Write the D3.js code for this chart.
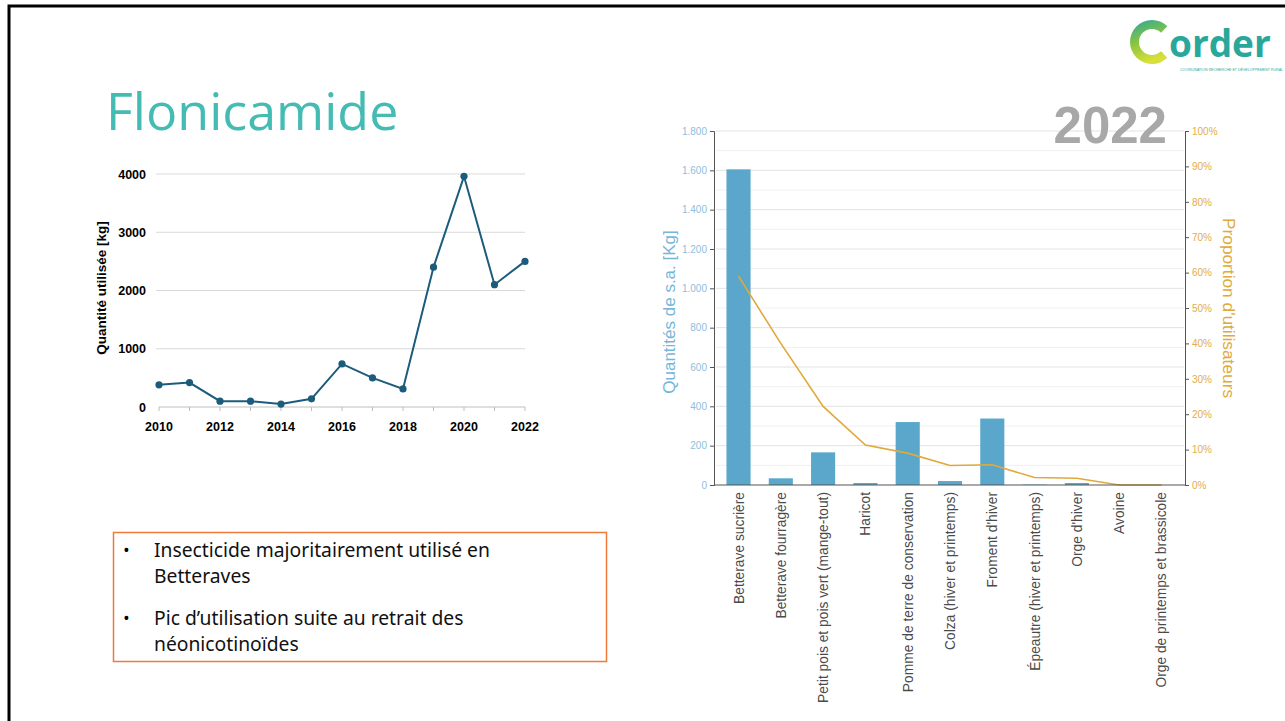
<!DOCTYPE html>
<html>
<head>
<meta charset="utf-8">
<script src="https://cdn.jsdelivr.net/npm/d3@7"></script>
<style>
  body { margin: 0; background: #fff; }
  svg { display: block; }
</style>
</head>
<body>
<svg id="slide" width="1285" height="721"></svg>
<script>
// --- data ---
var years = [2010, 2011, 2012, 2013, 2014, 2015, 2016, 2017, 2018, 2019, 2020, 2021, 2022];
var quantities = [380, 420, 100, 100, 50, 140, 740, 500, 310, 2400, 3960, 2100, 2500];
var yearTicks = [0, 1000, 2000, 3000, 4000];

var crops = ["Betterave sucrière", "Betterave fourragère", "Petit pois et pois vert (mange-tout)",
  "Haricot", "Pomme de terre de conservation", "Colza (hiver et printemps)", "Froment d'hiver",
  "Épeautre (hiver et printemps)", "Orge d'hiver", "Avoine", "Orge de printemps et brassicole"];
var cropKg = [1605, 34, 166, 10, 320, 20, 338, 2, 10, 0, 0];
var cropUsers = [0.59, 0.40, 0.222, 0.113, 0.09, 0.055, 0.057, 0.021, 0.019, 0, 0];
var kgTicks = [0, 200, 400, 600, 800, 1000, 1200, 1400, 1600, 1800];
var pctTicks = [0, 0.1, 0.2, 0.3, 0.4, 0.5, 0.6, 0.7, 0.8, 0.9, 1];

var bullets = [
  ["Insecticide majoritairement utilisé en", "Betteraves"],
  ["Pic d\u2019utilisation suite au retrait des", "néonicotinoïdes"]
];

var svg = d3.select("#slide");

// slide frame (top and left edges only are visible)
svg.append("path")
  .attr("d", "M9,721 V6 H1285")
  .attr("fill", "none")
  .attr("stroke", "#000")
  .attr("stroke-width", 3);

// title
svg.append("text")
  .attr("x", 106).attr("y", 130)
  .attr("font-family", "Open Sans, Noto Sans, sans-serif")
  .attr("font-size", 52)
  .attr("fill", "#45bcb3")
  .text("Flonicamide");

// ---------- left chart: yearly quantity ----------
var x1 = d3.scaleLinear().domain([2010, 2022]).range([159, 525]);
var y1 = d3.scaleLinear().domain([0, 4000]).range([407, 174]);
var g1 = svg.append("g");

g1.selectAll("line.grid")
  .data(yearTicks.slice(1))
  .enter().append("line")
  .attr("class", "grid")
  .attr("x1", 156).attr("x2", 525)
  .attr("y1", function(d) { return y1(d); })
  .attr("y2", function(d) { return y1(d); })
  .attr("stroke", "#d9d9d9").attr("stroke-width", 1);

g1.append("line")
  .attr("x1", 159).attr("x2", 525)
  .attr("y1", y1(0)).attr("y2", y1(0))
  .attr("stroke", "#bfbfbf").attr("stroke-width", 1);

g1.selectAll("line.xt")
  .data(years)
  .enter().append("line")
  .attr("class", "xt")
  .attr("x1", function(d) { return x1(d); })
  .attr("x2", function(d) { return x1(d); })
  .attr("y1", y1(0)).attr("y2", y1(0) + 4)
  .attr("stroke", "#bfbfbf");

g1.selectAll("text.yl")
  .data(yearTicks)
  .enter().append("text")
  .attr("class", "yl")
  .attr("x", 146)
  .attr("y", function(d) { return y1(d) + 4.5; })
  .attr("text-anchor", "end")
  .attr("font-family", "Liberation Sans, Arial, sans-serif")
  .attr("font-weight", "bold")
  .attr("font-size", 12.5)
  .attr("fill", "#000")
  .text(function(d) { return d; });

g1.selectAll("text.xl")
  .data(years.filter(function(d) { return d % 2 === 0; }))
  .enter().append("text")
  .attr("class", "xl")
  .attr("x", function(d) { return x1(d); })
  .attr("y", 431)
  .attr("text-anchor", "middle")
  .attr("font-family", "Liberation Sans, Arial, sans-serif")
  .attr("font-weight", "bold")
  .attr("font-size", 12.5)
  .attr("fill", "#000")
  .text(function(d) { return d; });

g1.append("text")
  .attr("transform", "translate(106,288) rotate(-90)")
  .attr("text-anchor", "middle")
  .attr("font-family", "Liberation Sans, Arial, sans-serif")
  .attr("font-weight", "bold")
  .attr("font-size", 13.5)
  .text("Quantité utilisée [kg]");

var line1 = d3.line()
  .x(function(d, i) { return x1(years[i]); })
  .y(function(d) { return y1(d); });

g1.append("path")
  .datum(quantities)
  .attr("d", line1)
  .attr("fill", "none")
  .attr("stroke", "#1b5c7c")
  .attr("stroke-width", 2);

g1.selectAll("circle")
  .data(quantities)
  .enter().append("circle")
  .attr("cx", function(d, i) { return x1(years[i]); })
  .attr("cy", function(d) { return y1(d); })
  .attr("r", 3.6)
  .attr("fill", "#1b5c7c");

// ---------- text box ----------
var box = svg.append("g");
box.append("rect")
  .attr("x", 113.5).attr("y", 532.5)
  .attr("width", 493).attr("height", 129)
  .attr("fill", "none")
  .attr("stroke", "#f07a3a")
  .attr("stroke-width", 1.5);

bullets.forEach(function(lines, i) {
  var top = 557 + i * 68;
  box.append("text")
    .attr("x", 123).attr("y", top)
    .attr("font-family", "Open Sans, Noto Sans, sans-serif")
    .attr("font-size", 18)
    .text("\u2022");
  lines.forEach(function(t, j) {
    box.append("text")
      .attr("x", 154).attr("y", top + j * 26)
      .attr("font-family", "Noto Sans, Open Sans, sans-serif")
      .attr("font-size", 19.3)
      .attr("fill", "#111")
      .text(t);
  });
});

// ---------- right chart: 2022 by crop ----------
var x2 = d3.scaleBand().domain(crops).range([718, 1182]).paddingInner(0.43).paddingOuter(0.2);
var y2 = d3.scaleLinear().domain([0, 1800]).range([485, 131]);
var y3 = d3.scaleLinear().domain([0, 1]).range([485, 131]);
var g2 = svg.append("g");

// minor + major grid
g2.selectAll("line.minor")
  .data(d3.range(100, 1800, 200))
  .enter().append("line")
  .attr("class", "minor")
  .attr("x1", 716).attr("x2", 1184)
  .attr("y1", function(d) { return y2(d); })
  .attr("y2", function(d) { return y2(d); })
  .attr("stroke", "#f0f0f0");

g2.selectAll("line.major")
  .data(kgTicks.slice(1))
  .enter().append("line")
  .attr("class", "major")
  .attr("x1", 716).attr("x2", 1184)
  .attr("y1", function(d) { return y2(d); })
  .attr("y2", function(d) { return y2(d); })
  .attr("stroke", "#e2e2e2");

g2.selectAll("rect.bar")
  .data(cropKg)
  .enter().append("rect")
  .attr("class", "bar")
  .attr("x", function(d, i) { return x2(crops[i]); })
  .attr("width", x2.bandwidth())
  .attr("y", function(d) { return y2(d); })
  .attr("height", function(d) { return y2(0) - y2(d); })
  .attr("fill", "#5aa7cb");

var line2 = d3.line()
  .x(function(d, i) { return x2(crops[i]) + x2.bandwidth() / 2; })
  .y(function(d) { return y3(d); });

g2.append("path")
  .datum(cropUsers)
  .attr("d", line2)
  .attr("fill", "none")
  .attr("stroke", "#e0a93a")
  .attr("stroke-width", 1.6);

var leftAxis = d3.axisLeft(y2).tickValues(kgTicks).tickSize(4).tickPadding(3)
  .tickFormat(function(d) { return d3.format(",")(d).replace(",", "."); });
var gl = g2.append("g").attr("transform", "translate(714,0)").call(leftAxis);
gl.select(".domain").attr("stroke", "#555");
gl.selectAll(".tick line").attr("stroke", "#555");
gl.selectAll(".tick text")
  .attr("fill", "#8ec0dd")
  .attr("font-family", "Liberation Sans, Arial, sans-serif")
  .attr("font-size", 10);

var rightAxis = d3.axisRight(y3).tickValues(pctTicks).tickSize(4).tickPadding(3)
  .tickFormat(d3.format(".0%"));
var gr = g2.append("g").attr("transform", "translate(1185,0)").call(rightAxis);
gr.select(".domain").attr("stroke", "#555");
gr.selectAll(".tick line").attr("stroke", "#555");
gr.selectAll(".tick text")
  .attr("fill", "#e3ad45")
  .attr("font-family", "Liberation Sans, Arial, sans-serif")
  .attr("font-size", 10);

g2.append("line")
  .attr("x1", 714).attr("x2", 1185)
  .attr("y1", y2(0)).attr("y2", y2(0))
  .attr("stroke", "#555").attr("stroke-width", 1.2);

g2.selectAll("text.crop")
  .data(crops)
  .enter().append("text")
  .attr("class", "crop")
  .attr("transform", function(d) {
    return "translate(" + (x2(d) + x2.bandwidth() / 2 + 5) + ",492) rotate(-90)";
  })
  .attr("text-anchor", "end")
  .attr("font-family", "Liberation Sans, Arial, sans-serif")
  .attr("font-size", 13.8)
  .attr("fill", "#4a4a4a")
  .text(function(d) { return d; });

g2.append("text")
  .attr("transform", "translate(675,312) rotate(-90)")
  .attr("text-anchor", "middle")
  .attr("font-family", "Liberation Sans, Arial, sans-serif")
  .attr("font-size", 17)
  .attr("fill", "#77b5d9")
  .text("Quantités de s.a. [Kg]");

g2.append("text")
  .attr("transform", "translate(1223,308) rotate(90)")
  .attr("text-anchor", "middle")
  .attr("font-family", "Liberation Sans, Arial, sans-serif")
  .attr("font-size", 17.3)
  .attr("fill", "#e0a93a")
  .text("Proportion d'utilisateurs");

svg.append("text")
  .attr("x", 1167).attr("y", 143)
  .attr("text-anchor", "end")
  .attr("font-family", "Liberation Sans, Arial, sans-serif")
  .attr("font-weight", "bold")
  .attr("font-size", 51)
  .attr("fill", "#a8a8a8")
  .text("2022");

// ---------- logo ----------
var logo = svg.append("g");
var grad = svg.append("defs").append("linearGradient")
  .attr("id", "cgrad").attr("x1", "0").attr("y1", "0").attr("x2", "0.3").attr("y2", "1");
grad.append("stop").attr("offset", "0%").attr("stop-color", "#2aa79b");
grad.append("stop").attr("offset", "55%").attr("stop-color", "#8cc63f");
grad.append("stop").attr("offset", "100%").attr("stop-color", "#d7e03a");
logo.append("path")
  .attr("d", d3.arc()({ innerRadius: 13, outerRadius: 22,
    startAngle: Math.PI / 2 + 0.8, endAngle: Math.PI / 2 + 2 * Math.PI - 0.8 }))
  .attr("transform", "translate(1152,42)")
  .attr("fill", "url(#cgrad)");
logo.append("text")
  .attr("x", 1169).attr("y", 57)
  .attr("font-family", "Open Sans, Noto Sans, sans-serif")
  .attr("font-weight", "bold")
  .attr("font-size", 37)
  .attr("letter-spacing", 0)
  .attr("fill", "#2aa79b")
  .text("order");
logo.append("text")
  .attr("x", 1180).attr("y", 71)
  .attr("font-family", "Liberation Sans, Arial, sans-serif")
  .attr("font-size", 3.6)
  .attr("fill", "#2aa79b")
  .text("COORDINATION RECHERCHE ET DÉVELOPPEMENT RURAL");
</script>
</body>
</html>
